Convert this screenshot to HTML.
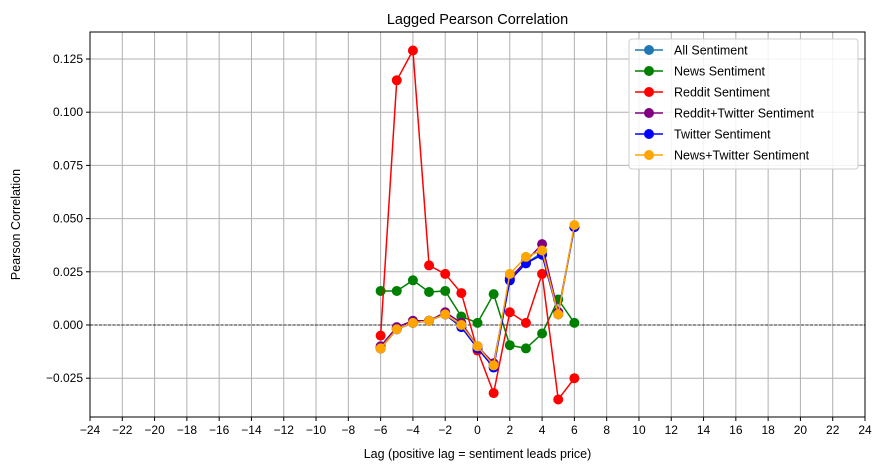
<!DOCTYPE html>
<html><head><meta charset="utf-8"><style>
body{margin:0;background:#fff;font-family:"Liberation Sans","DejaVu Sans",sans-serif}
svg text{font-family:"Liberation Sans","DejaVu Sans",sans-serif}
</style></head><body>
<svg id="c" width="884" height="470"></svg>
<script>
const lags=[-6,-5,-4,-3,-2,-1,0,1,2,3,4,5,6];
const allS=[-0.011,-0.002,0.001,0.002,0.005,-0.001,-0.010,-0.019,0.021,0.029,0.034,0.006,0.046];
const newsS=[0.016,0.016,0.021,0.0155,0.016,0.004,0.001,0.0145,-0.0095,-0.011,-0.004,0.012,0.001];
const redditS=[-0.005,0.115,0.129,0.028,0.024,0.015,-0.012,-0.032,0.006,0.001,0.024,-0.035,-0.025];
const rtS=[-0.010,-0.001,0.002,0.002,0.006,0.001,-0.010,-0.018,0.022,0.030,0.038,0.006,0.046];
const twS=[-0.011,-0.002,0.001,0.002,0.005,-0.001,-0.011,-0.020,0.021,0.029,0.033,0.005,0.046];
const ntS=[-0.011,-0.002,0.001,0.002,0.005,0,-0.010,-0.019,0.024,0.032,0.035,0.005,0.047];
const xTicks=[-24,-22,-20,-18,-16,-14,-12,-10,-8,-6,-4,-2,0,2,4,6,8,10,12,14,16,18,20,22,24];
const yTicks=[-0.025,0,0.025,0.05,0.075,0.1,0.125];
const yTickLabels=["−0.025","0.000","0.025","0.050","0.075","0.100","0.125"];
const seriesNames=["All Sentiment","News Sentiment","Reddit Sentiment","Reddit+Twitter Sentiment","Twitter Sentiment","News+Twitter Sentiment"];
const seriesColors=["#1f77b4","green","red","purple","blue","orange"];
const seriesData=[allS,newsS,redditS,rtS,twS,ntS];

const L=90,R=865,T=32,B=417;
const x=v=>L+(v+24)/48*(R-L);
const y=v=>325-v*2128;
const svg=document.getElementById('c');
const NS='http://www.w3.org/2000/svg';
function mk(t,a,p){const e=document.createElementNS(NS,t);for(const k in a)e.setAttribute(k,a[k]);(p||svg).appendChild(e);return e;}
// grid
xTicks.forEach(t=>{
 const g=mk('line',{x1:x(t),x2:x(t),y1:T,y2:B,stroke:'#b0b0b0','stroke-width':1});
 
 
 mk('line',{x1:x(t),x2:x(t),y1:B,y2:B+4,stroke:'#000'});
 const tx=mk('text',{x:x(t),y:B+17,'text-anchor':'middle','font-size':12});tx.textContent=t<0?'−'+(-t):t;
 
 
});
yTicks.forEach((t,i)=>{
 const g=mk('line',{x1:L,x2:R,y1:y(t),y2:y(t),stroke:'#b0b0b0','stroke-width':1});
 
 
 mk('line',{x1:L-4,x2:L,y1:y(t),y2:y(t),stroke:'#000'});
 const tx=mk('text',{x:L-7,y:y(t)+4,'text-anchor':'end','font-size':12});tx.textContent=yTickLabels[i];
 
 
});
const zl=mk('line',{x1:L,x2:R,y1:y(0),y2:y(0),stroke:'#000','stroke-width':0.8,'stroke-dasharray':'3,1.5'});


// series
seriesData.forEach((d,si)=>{
 const g=mk('g',{});
 
 
 mk('polyline',{points:d.map((v,i)=>x(lags[i])+','+y(v)).join(' '),fill:'none',stroke:seriesColors[si],'stroke-width':1.5},g);
 d.forEach((v,i)=>{const c=mk('circle',{cx:x(lags[i]),cy:y(v),r:5,fill:seriesColors[si]},g);
  
  });
});
const fr=mk('rect',{x:L,y:T,width:R-L,height:B-T,fill:'none',stroke:'#000','stroke-width':1});


const ti=mk('text',{x:(L+R)/2,y:24,'text-anchor':'middle','font-size':14.5});ti.textContent='Lagged Pearson Correlation';


const xl=mk('text',{x:(L+R)/2,y:458,'text-anchor':'middle','font-size':12.5});xl.textContent='Lag (positive lag = sentiment leads price)';


const yl=mk('text',{x:20,y:(T+B)/2,'text-anchor':'middle','font-size':12.5,transform:`rotate(-90 20 ${(T+B)/2})`});yl.textContent='Pearson Correlation';


// legend
const lg=mk('g',{});


mk('rect',{x:629,y:39,width:229,height:130,rx:3,fill:'#fff','fill-opacity':0.85,stroke:'#ccc'},lg);
seriesNames.forEach((n,i)=>{
 const yy=50+i*21;
 const e=mk('g',{},lg);
 
 
 mk('line',{x1:635,x2:663,y1:yy,y2:yy,stroke:seriesColors[i],'stroke-width':1.5},e);
 mk('circle',{cx:649,cy:yy,r:5,fill:seriesColors[i]},e);
 const t=mk('text',{x:674,y:yy+4.5,'font-size':12.5},e);t.textContent=n;
});
</script>
</body></html>
